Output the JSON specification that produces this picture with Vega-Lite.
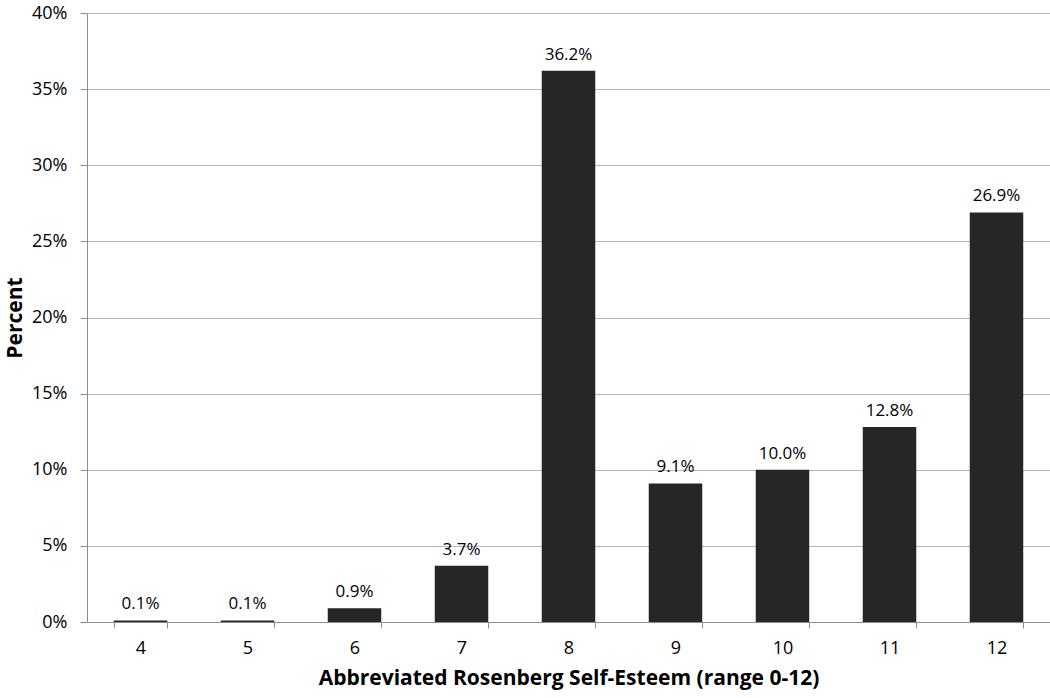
{
  "$schema": "https://vega.github.io/schema/vega-lite/v6.json",
  "autosize": "none",
  "width": 963,
  "height": 609,
  "padding": {"left": 87, "top": 13, "right": 0, "bottom": 76},
  "background": "white",
  "config": {
    "view": {"stroke": null},
    "font": "Open Sans"
  },
  "data": {
    "values": [
      {"score": "4", "pct": 0.001},
      {"score": "5", "pct": 0.001},
      {"score": "6", "pct": 0.009},
      {"score": "7", "pct": 0.037},
      {"score": "8", "pct": 0.362},
      {"score": "9", "pct": 0.091},
      {"score": "10", "pct": 0.100},
      {"score": "11", "pct": 0.128},
      {"score": "12", "pct": 0.269}
    ]
  },
  "encoding": {
    "x": {
      "field": "score",
      "type": "ordinal",
      "sort": null,
      "scale": {"paddingInner": 0.5, "paddingOuter": 0.25},
      "axis": {
        "title": "Abbreviated Rosenberg Self-Esteem (range 0-12)",
        "titleFontSize": 21,
        "titleFontWeight": "bold",
        "titleColor": "#000000",
        "titlePadding": 10,
        "labelAngle": 0,
        "labelFontSize": 18,
        "labelColor": "#000000",
        "labelPadding": 11,
        "domainColor": "#8c8c8c",
        "tickColor": "#8c8c8c",
        "tickSize": 6,
        "tickBand": "extent",
        "grid": false
      }
    },
    "y": {
      "field": "pct",
      "type": "quantitative",
      "scale": {"domain": [0, 0.4], "nice": false},
      "axis": {
        "title": "Percent",
        "titleFontSize": 21,
        "titleFontWeight": "bold",
        "titleColor": "#000000",
        "titlePadding": 6,
        "values": [0, 0.05, 0.1, 0.15, 0.2, 0.25, 0.3, 0.35, 0.4],
        "format": ".0%",
        "labelFontSize": 18,
        "labelColor": "#000000",
        "labelPadding": 13,
        "tickSize": 7,
        "tickColor": "#8c8c8c",
        "domainColor": "#8c8c8c",
        "grid": true,
        "gridColor": "#b4b4b4",
        "gridWidth": 1
      }
    }
  },
  "layer": [
    {
      "mark": {"type": "bar", "color": "#262626"}
    },
    {
      "mark": {"type": "text", "baseline": "bottom", "dy": -7, "fontSize": 17, "color": "#000000"},
      "encoding": {
        "text": {"field": "pct", "type": "quantitative", "format": ".1%"}
      }
    }
  ]
}
